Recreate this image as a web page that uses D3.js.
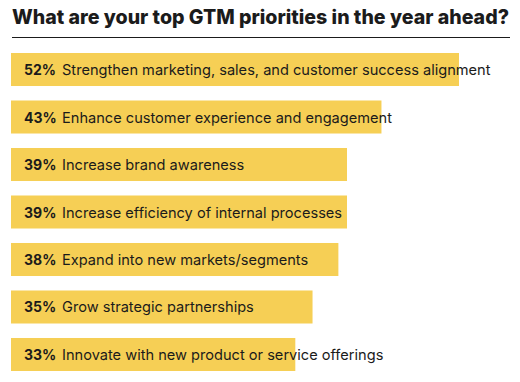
<!DOCTYPE html>
<html><head><meta charset="utf-8">
<script src="https://cdn.jsdelivr.net/npm/d3@7"></script>
<style>
html,body{margin:0;padding:0;background:#fff;}
svg{display:block;}
text{font-family:Inter, "Open Sans", sans-serif;fill:#1b1b1b;}
</style></head><body>
<svg id="c" width="520" height="382"></svg>
<script>
const categories = [
  "Strengthen marketing, sales, and customer success alignment",
  "Enhance customer experience and engagement",
  "Increase brand awareness",
  "Increase efficiency of internal processes",
  "Expand into new markets/segments",
  "Grow strategic partnerships",
  "Innovate with new product or service offerings"
];
const values = [52, 43, 39, 39, 38, 35, 33];
const title = "What are your top GTM priorities in the year ahead?";

const svg = d3.select("#c");
const x = d3.scaleLinear().domain([0, 52]).range([11, 459]);
const y = d3.scaleBand().domain(categories).range([53, 371]).paddingInner(0.305).paddingOuter(0);

const t = svg.append("text").attr("x", 12).attr("y", 23.5)
  .style("font-size", "20px").style("font-weight", 800).text(title);
const tw = t.node().getComputedTextLength();
if (tw > 0) t.attr("textLength", 497).attr("lengthAdjust", "spacingAndGlyphs");
svg.append("line").attr("x1", 12).attr("x2", 510).attr("y1", 37.5).attr("y2", 37.5)
  .attr("stroke", "#1b1b1b").attr("stroke-width", 1.2);

const g = svg.append("g");
g.selectAll("rect").data(categories).join("rect")
  .attr("x", x(0)).attr("y", d => y(d))
  .attr("width", (d, i) => x(values[i]) - x(0))
  .attr("height", y.bandwidth())
  .attr("fill", "#F6CF55");

g.selectAll("text.p").data(categories).join("text").attr("class", "p")
  .attr("x", 24).attr("y", d => y(d) + y.bandwidth() / 2 + 5.5)
  .style("font-size", "14px").style("font-weight", 700)
  .text((d, i) => values[i] + "%");

g.selectAll("text.l").data(categories).join("text").attr("class", "l")
  .attr("x", 62).attr("y", d => y(d) + y.bandwidth() / 2 + 5.5)
  .style("font-size", "14.6px")
  .text(d => d);
</script>
</body></html>
